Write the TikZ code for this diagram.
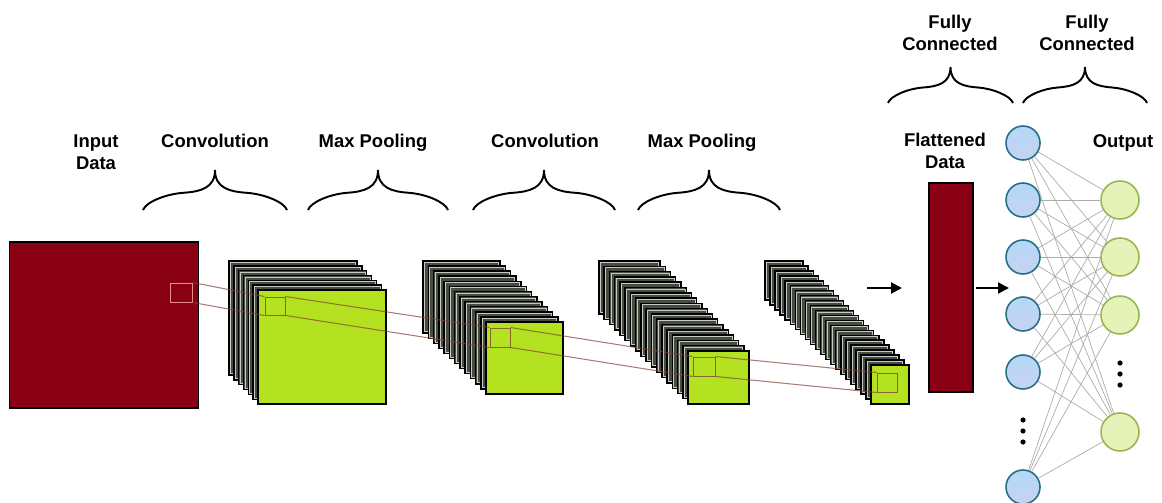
\documentclass[tikz,border=0pt]{standalone}
\usepackage{fontspec}
\setmainfont{Liberation Sans}
\usetikzlibrary{arrows.meta}

\definecolor{maproon}{RGB}{137,0,20}
\definecolor{lime}{RGB}{180,226,32}
\definecolor{slab}{RGB}{70,76,64}
\definecolor{rfline}{RGB}{130,70,55}
\definecolor{hidfill}{RGB}{178,216,246}
\definecolor{hidtint}{RGB}{200,210,242}
\definecolor{hiddraw}{RGB}{38,110,132}
\definecolor{outfill}{RGB}{230,243,184}
\definecolor{outdraw}{RGB}{150,182,84}

\tikzset{pics/curlyb/.style={code={
	\draw[line width=1.1pt] (0,0) .. controls (0.02,-0.2) and (0.16,-0.4) .. (0.28,-0.43)
		.. controls (0.4,-0.46) and (0.5,-0.55) .. (0.5,-1)
		.. controls (0.5,-0.55) and (0.6,-0.46) .. (0.72,-0.43)
		.. controls (0.84,-0.4) and (0.98,-0.2) .. (1,0);
}}}

\begin{document}
\begin{tikzpicture}[x=0.02cm, y=-0.02cm,
	lbl/.style={font=\bfseries\fontsize{10.5}{12.5}\selectfont, align=center, inner sep=0},
	layer/.style={fill=slab, draw=black, line width=0.85pt},
	sheen/.style={draw=white!70!slab, line width=0.3pt},
	face/.style={fill=lime, draw=black, line width=0.85pt},
	rf/.style={draw=rfline, opacity=0.8, line width=0.55pt, inner sep=0},
	link/.style={draw=rfline, opacity=0.7, line width=0.6pt},
	arr/.style={-{Triangle[length=0.22cm,width=0.22cm]}, line width=1.2pt},
	hid/.style={circle, top color=hidfill, bottom color=hidtint, draw=hiddraw, line width=0.9pt, minimum size=0.68cm, inner sep=0},
	outn/.style={circle, fill=outfill, draw=outdraw, line width=0.9pt, minimum size=0.76cm, inner sep=0},
	wire/.style={draw=gray!65, line width=0.4pt}]
	\useasboundingbox (0,0) rectangle (1162,503);

	% input image
	\node[fill=maproon, draw=black, line width=0.85pt, minimum width=3.78cm, minimum height=3.32cm, inner sep=0] (input) at (104,325) {};

	% feature map stacks: back corner / size / step / layers
	\foreach \x/\y/\w/\h/\dx/\dy/\n in {229/261/128/114/4.83/4.83/6, 423/261/77/72/5.25/5.08/12, 599/261/61/53/5.235/5.294/17, 765/261/38/39/5.05/4.95/21}{
		\foreach \k in {0,...,\n}{
			\filldraw[layer] (\x+\k*\dx,\y+\k*\dy) rectangle ++(\w,\h);
			\draw[sheen] (\x+\k*\dx+1.3,\y+\k*\dy+1.3) rectangle ++(\w-2.6,\h-2.6);
		}
		\filldraw[face] (\x+\n*\dx,\y+\n*\dy) rectangle ++(\w,\h);
	}

	% receptive fields
	\node[rf, draw={rgb,255:red,232;green,140;blue,140}, opacity=1, minimum width=0.44cm, minimum height=0.38cm] (rf0) at (181,292.5) {};
	\node[rf, minimum width=0.4cm, minimum height=0.36cm] (rf1) at (275,306) {};
	\node[rf, minimum width=0.4cm, minimum height=0.38cm] (rf2) at (500,337.5) {};
	\node[rf, minimum width=0.44cm, minimum height=0.38cm] (rf3) at (704,366.5) {};
	\node[rf, minimum width=0.4cm, minimum height=0.38cm] (rf4) at (887,382.5) {};
	\foreach \a/\b in {rf0/rf1, rf1/rf2, rf2/rf3, rf3/rf4}{
		\draw[link] (\a.north east) -- (\b.north west);
		\draw[link] (\a.south east) -- (\b.south west);
	}

	% flattened vector
	\node[fill=maproon, draw=black, line width=0.85pt, minimum width=0.88cm, minimum height=4.18cm, inner sep=0] (flat) at (951,287.5) {};
	\coordinate (a1) at (867,288);
	\coordinate (a2) at (902,288);
	\coordinate (a3) at (976,288);
	\coordinate (a4) at (1009,288);
	\draw[arr] (a1) -- (a2);
	\draw[arr] (a3) -- (a4);

	% fully connected layers
	\node[hid] (h1) at (1023,143) {};
	\node[hid] (h2) at (1023,200) {};
	\node[hid] (h3) at (1023,257) {};
	\node[hid] (h4) at (1023,314) {};
	\node[hid] (h5) at (1023,372) {};
	\node[hid] (h6) at (1023,487) {};
	\node[outn] (o1) at (1120,200) {};
	\node[outn] (o2) at (1120,257) {};
	\node[outn] (o3) at (1120,315) {};
	\node[outn] (o4) at (1120,432) {};
	\foreach \i in {1,...,6}
		\foreach \j in {1,...,4}
			\draw[wire] (h\i) -- (o\j);
	\foreach \t in {420,431,442} \fill (1023,\t) circle (2.6);
	\foreach \t in {363,374,385} \fill (1120,\t) circle (2.6);

	% braces
	\pic[xscale=144, yscale=40] at (143,210) {curlyb};
	\pic[xscale=140, yscale=40] at (308,210) {curlyb};
	\pic[xscale=142, yscale=40] at (473,210) {curlyb};
	\pic[xscale=142, yscale=40] at (638,210) {curlyb};
	\pic[xscale=125, yscale=36] at (888,103) {curlyb};
	\pic[xscale=124, yscale=36] at (1023,103) {curlyb};

	% labels
	\node[lbl] (tin) at (96,152.5) {Input\\Data};
	\node[lbl, anchor=base] (tc1) at (215,148) {Convolution};
	\node[lbl, anchor=base] (tp1) at (373,148) {Max Pooling};
	\node[lbl, anchor=base] (tc2) at (545,148) {Convolution};
	\node[lbl, anchor=base] (tp2) at (702,148) {Max Pooling};
	\node[lbl] (tfl) at (945,151) {Flattened\\Data};
	\node[lbl, anchor=base] (tout) at (1123,148) {Output};
	\node[lbl] (tfc1) at (950,33) {Fully\\Connected};
	\node[lbl] (tfc2) at (1087,33) {Fully\\Connected};
\end{tikzpicture}
\end{document}
